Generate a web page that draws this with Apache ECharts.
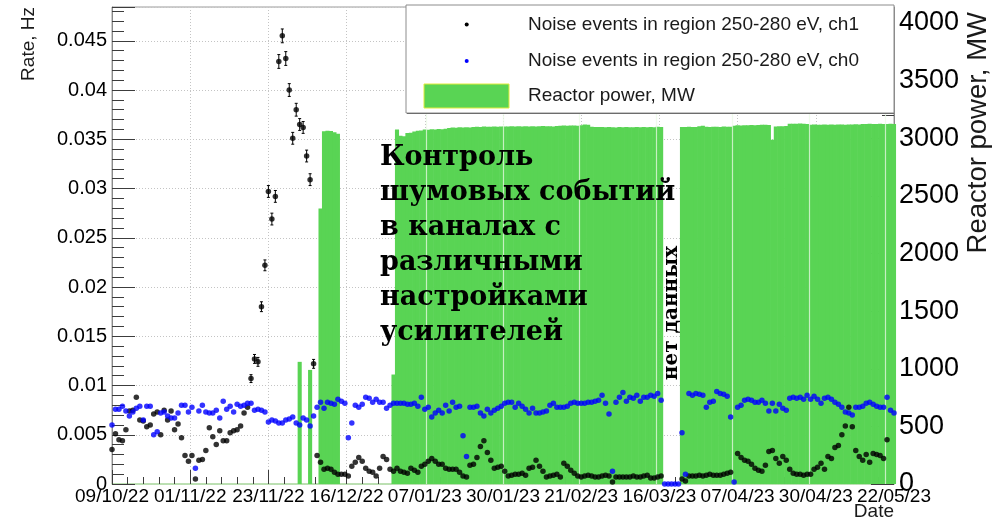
<!DOCTYPE html>
<html>
<head>
<meta charset="utf-8">
<script src="https://cdn.jsdelivr.net/npm/echarts@6/dist/echarts.min.js"></script>
<style>
  html, body { margin: 0; padding: 0; background: #fff; }
  #chart { width: 1004px; height: 527px; }
</style>
</head>
<body>
<div id="chart"></div>
<script>
// Day index 0 = 09/10/22 12:00, one entry per day up to 22/05/23 (day 225).
const dateLabels = ['09/10/22', '01/11/22', '23/11/22', '16/12/22', '07/01/23', '30/01/23',
                    '21/02/23', '16/03/23', '07/04/23', '30/04/23', '22/05/23'];

// Noise rate in 250-280 eV, channel 1 (Hz)
const ch1Rate = [
  0.0035, 0.0051, 0.0045, 0.0044, 0.0055, 0.0074, 0.0075, 0.0088, 0.0065, 0.0064,
  0.0058, 0.0060, 0.0071, 0.0073, 0.0050, 0.0075, 0.0065, 0.0074, 0.0055, 0.0061,
  0.0047, 0.0029, 0.0023, 0.0029, 0.0005, 0.0024, 0.0025, 0.0034, 0.0057, 0.0048,
  0.0040, 0.0054, 0.0044, 0.0044, 0.0052, 0.0054, 0.0055, 0.0059, 0.0072, 0.0078,
  0.0107, 0.0127, 0.0124, 0.0180, 0.0222, 0.0297, 0.0269, 0.0292, 0.0429, 0.0455,
  0.0432, 0.0400, 0.0351, 0.0380, 0.0365, 0.0362, 0.0333, 0.0309, 0.0122, 0.0029,
  0.0022, 0.0015, 0.0016, 0.0015, 0.0012, 0.0010, 0.0010, 0.0010, 0.0008, 0.0018,
  0.0022, 0.0027, 0.0023, 0.0016, 0.0013, 0.0012, 0.0008, 0.0016, 0.0028, 0.0025,
  0.0015, 0.0013, 0.0016, 0.0013, 0.0012, 0.0011, 0.0016, 0.0014, 0.0012, 0.0018,
  0.0020, 0.0023, 0.0026, 0.0023, 0.0020, 0.0020, 0.0016, 0.0015, 0.0015, 0.0015,
  0.0012, 0.0008, 0.0007, 0.0019, 0.0020, 0.0027, 0.0038, 0.0044, 0.0032, 0.0024,
  0.0016, 0.0017, 0.0018, 0.0013, 0.0008, 0.0009, 0.0010, 0.0010, 0.0011, 0.0009,
  0.0016, 0.0017, 0.0024, 0.0018, 0.0013, 0.0007, 0.0008, 0.0009, 0.0010, 0.0007,
  0.0021, 0.0018, 0.0014, 0.0011, 0.0008, 0.0007, 0.0008, 0.0009, 0.0008, 0.0007,
  0.0007, 0.0008, 0.0009, 0.0008, 0.0002, 0.0007, 0.0007, 0.0007, 0.0007, 0.0007,
  0.0008, 0.0007, 0.0007, 0.0008, 0.0009, 0.0006, 0.0006, 0.0007, 0.0008, null,
  null,   null,   null,   null,   0.0005, 0.0003, 0.0008, 0.0008, 0.0008, 0.0009,
  0.0008, 0.0009, 0.0010, 0.0009, 0.0009, 0.0009, 0.0010, 0.0011, 0.0012, null,
  0.0031, 0.0027, 0.0024, 0.0023, 0.0020, 0.0016, 0.0014, 0.0013, 0.0019, 0.0033,
  0.0034, 0.0026, 0.0021, 0.0028, 0.0024, 0.0015, 0.0011, 0.0010, 0.0010, 0.0009,
  0.0010, 0.0010, 0.0015, 0.0017, 0.0021, 0.0015, 0.0028, 0.0026, 0.0037, 0.0039,
  0.0050, 0.0059, 0.0078, 0.0058, 0.0034, 0.0028, 0.0024, 0.0030, 0.0022, 0.0031,
  0.0030, 0.0029, 0.0026, 0.0045, null,   null
];

// Statistical errors of channel 1, days 40..58
const ch1ErrStart = 40;
const ch1Err = [
  0.0004, 0.00045, 0.00045, 0.0005, 0.00055, 0.0006, 0.0006, 0.0006, 0.0007, 0.0007,
  0.0007, 0.00065, 0.0006, 0.00065, 0.0006, 0.0006, 0.0006, 0.0006, 0.00045
];

// Noise rate in 250-280 eV, channel 0 (Hz)
const ch0Rate = [
  0.0060, 0.0076, 0.0076, 0.0079, 0.0074, 0.0069, 0.0073, 0.0077, 0.0079, 0.0065,
  0.0079, 0.0079, 0.0050, 0.0053, 0.0072, 0.0073, 0.0069, 0.0067, 0.0067, 0.0072,
  0.0080, 0.0080, 0.0073, 0.0078, 0.0016, 0.0074, 0.0080, 0.0073, 0.0072, 0.0072,
  0.0075, 0.0067, 0.0084, 0.0076, 0.0079, 0.0073, 0.0081, 0.0079, 0.0080, 0.0082,
  0.0082, 0.0075, 0.0076, 0.0075, 0.0073, 0.0063, 0.0065, 0.0064, 0.0062, 0.0062,
  0.0065, 0.0066, 0.0068, 0.0062, 0.0060, 0.0067, 0.0065, 0.0059, 0.0069, 0.0078,
  0.0083, 0.0077, 0.0083, 0.0082, 0.0081, 0.0086, 0.0084, 0.0082, 0.0047, 0.0062,
  0.0080, 0.0078, 0.0081, 0.0088, 0.0087, 0.0083, 0.0086, 0.0083, 0.0083, 0.0077,
  0.0080, 0.0082, 0.0082, 0.0082, 0.0082, 0.0081, 0.0081, 0.0082, 0.0079, 0.0088,
  0.0076, 0.0078, 0.0068, 0.0072, 0.0075, 0.0072, 0.0080, 0.0074, 0.0083, 0.0078,
  0.0079, 0.0049, 0.0028, 0.0078, 0.0078, 0.0079, 0.0072, 0.0069, 0.0076, 0.0072,
  0.0075, 0.0077, 0.0079, 0.0082, 0.0083, 0.0083, 0.0078, 0.0082, 0.0079, 0.0076,
  0.0072, 0.0077, 0.0072, 0.0072, 0.0073, 0.0074, 0.0080, 0.0082, 0.0078, 0.0078,
  0.0078, 0.0079, 0.0082, 0.0083, 0.0082, 0.0082, 0.0082, 0.0083, 0.0083, 0.0084,
  0.0085, 0.0090, 0.0082, 0.0071, 0.0013, 0.0083, 0.0088, 0.0093, 0.0084, 0.0088,
  0.0087, 0.0090, 0.0084, 0.0088, 0.0088, 0.0090, 0.0089, 0.0092, 0.0085, 0,
  0,      0,      0,      0,      0.0052, 0.0010, 0.0092, 0.0090, 0.0092, 0.0091,
  0.0090, 0.0078, 0.0083, 0.0084, 0.0094, 0.0092, 0.0091, 0.0089, 0.0068, 0.0002,
  0.0078, 0.0080, 0.0085, 0.0086, 0.0085, 0.0083, 0.0083, 0.0085, 0.0082, 0.0074,
  0.0082, 0.0074, 0.0081, 0.0077, 0.0075, 0.0087, 0.0088, 0.0087, 0.0088, 0.0086,
  0.0090, 0.0086, 0.0089, 0.0086, 0.0082, 0.0087, 0.0088, 0.0086, 0.0083, 0.0081,
  0.0078, 0.0073, 0.0072, 0.0070, 0.0078, 0.0078, 0.0079, 0.0082, 0.0083, 0.0081,
  0.0079, 0.0078, 0.0078, 0.0088, 0.0075, 0.0072
];

// Daily mean reactor thermal power (MW); null = reactor off / no data
const reactorPower = [
  null, null, null, null, null, null, null, null, null, null,
  null, null, null, null, null, null, null, null, null, null,
  null, null, null, null, null, null, null, null, null, null,
  null, null, null, null, null, null, null, null, null, null,
  null, null, null, null, null, null, null, null, null, null,
  null, null, null, null, 1060, null, null, 990,  null, null,
  2390, 3060, 3066, 3064, 3052, 3040, null, null, null, null,
  null, null, null, null, null, null, null, null, null, null,
  null, 950,  3075, 3022, 3018, 3045, 3048, 3058, 3066, 3068,
  3075, 3074, 3078, 3076, 3080, 3079, 3082, 3090, 3094, 3092,
  3095, 3093, 3096, 3094, 3097, 3100, 3098, 3101, 3099, 3100,
  3102, 3100, 3101, 3103, 3101, 3104, 3102, 3105, 3103, 3104,
  3102, 3105, 3103, 3104, 3106, 3104, 3105, 3103, 3106, 3108,
  3110, 3109, 3111, 3110, 3109, 3112, 3120, 3118, 3100, 3098,
  3097, 3098, 3095, 3097, 3096, 3094, 3097, 3095, 3098, 3096,
  3095, 3097, 3096, 3098, 3095, 3097, 3096, 3099, 3097, null,
  null, null, null, null, 3098, 3097, 3099, 3098, 3097, 3105,
  3109, 3099, 3098, 3100, 3099, 3098, 3101, 3100, 3099, 3109,
  3112, 3110, 3113, 3112, 3115, 3114, 3116, 3118, 3117, 3115,
  2988, 3103, 3105, 3104, 3106, 3125, 3127, 3126, 3128, 3126,
  3124, 3118, 3119, 3117, 3118, 3120, 3118, 3119, 3118, 3120,
  3119, 3118, 3120, 3119, 3121, 3120, 3124, 3123, 3125, 3124,
  3123, 3125, 3124, 3123, 3125, 3124
];

// Grid of the power overlay frame (days)
const powerGridDays = [90.5, 112.5, 134.5, 156.5, 178.5, 200.5, 222.5];

const toPairs = arr => arr.map((v, i) => (v == null ? null : [i, v])).filter(p => p);
const errData = ch1Err.map((e, i) => [ch1ErrStart + i, ch1Rate[ch1ErrStart + i], e]);

const AXIS_FONT = '"Liberation Sans", Arial, sans-serif';
const SERIF = '"DejaVu Serif", serif';
const GREEN = '#59d454';
const TICK = '#3c3c3c';
const GRIDC = '#c4c4c4';

const chart = echarts.init(document.getElementById('chart'), null, { renderer: 'canvas' });

chart.setOption({
  animation: false,
  backgroundColor: '#fff',
  textStyle: { fontFamily: AXIS_FONT },
  grid: { left: 112, right: 110, top: 7, bottom: 43, show: true, borderColor: '#9a9a9a', borderWidth: 1 },
  xAxis: [{
    type: 'value', min: 0, max: 225, interval: 22.5,
    axisLine: { show: true, onZero: false, lineStyle: { color: '#b6e6aa', width: 1.5 } },
    axisTick: { show: true, inside: true, length: 14, lineStyle: { color: TICK } },
    minorTick: { show: true, splitNumber: 5, length: 7, lineStyle: { color: TICK } },
    splitLine: { show: true, lineStyle: { color: GRIDC, type: [1, 2] } },
    axisLabel: {
      margin: 3, fontSize: 19, color: '#000', fontFamily: AXIS_FONT,
      formatter: v => dateLabels[Math.round(v / 22.5)] || ''
    }
  }],
  yAxis: [{
    type: 'value', position: 'left', min: 0, max: 0.04843, interval: 0.005,
    axisLine: { show: true, lineStyle: { color: '#8a8a8a' } },
    axisTick: { show: true, inside: true, length: 23, lineStyle: { color: TICK } },
    minorTick: { show: true, splitNumber: 5, length: 12, lineStyle: { color: TICK } },
    splitLine: { show: true, lineStyle: { color: GRIDC, type: [1, 2] } },
    axisLabel: {
      margin: 5, fontSize: 20, color: '#000', fontFamily: AXIS_FONT,
      formatter: v => {
        const k = Math.round(v / 0.005);
        if (Math.abs(v - k * 0.005) > 1e-9) return '';
        return String(+(k * 0.005).toFixed(3));
      }
    }
  }, {
    type: 'value', position: 'right', min: 0, max: 4139, interval: 500,
    axisLine: { show: true, lineStyle: { color: '#8a8a8a' } },
    axisTick: { show: true, inside: true, length: 23, lineStyle: { color: TICK } },
    minorTick: { show: true, splitNumber: 5, length: 12, lineStyle: { color: TICK } },
    splitLine: { show: false },
    axisLabel: {
      margin: 5, fontSize: 27, color: '#000', fontFamily: AXIS_FONT,
      formatter: v => (v % 500 === 0 ? String(v) : '')
    }
  }],
  series: [{
    name: 'Reactor power, MW',
    type: 'bar',
    xAxisIndex: 0, yAxisIndex: 1,
    data: toPairs(reactorPower),
    barWidth: 4.1,
    itemStyle: { color: GREEN, borderWidth: 0 },
    z: 2,
    markLine: {
      silent: true, symbol: 'none', label: { show: false },
      lineStyle: { color: 'rgba(235,250,230,0.75)', width: 1.2, type: 'solid' },
      data: powerGridDays.map(d => ({ xAxis: d })),
      z: 3
    }
  }, {
    name: 'ch1 errors',
    type: 'custom',
    xAxisIndex: 0, yAxisIndex: 0,
    data: errData,
    encode: { x: 0, y: 1 },
    z: 6,
    renderItem: (params, api) => {
      const x = api.value(0), v = api.value(1), e = api.value(2);
      const t = api.coord([x, v + e]);
      const b = api.coord([x, v - e]);
      const st = { stroke: '#000', lineWidth: 1 };
      return {
        type: 'group',
        children: [
          { type: 'line', shape: { x1: t[0], y1: t[1], x2: b[0], y2: b[1] }, style: st },
          { type: 'line', shape: { x1: t[0] - 1.5, y1: t[1], x2: t[0] + 1.5, y2: t[1] }, style: st },
          { type: 'line', shape: { x1: b[0] - 1.5, y1: b[1], x2: b[0] + 1.5, y2: b[1] }, style: st }
        ]
      };
    }
  }, {
    name: 'Noise events in region 250-280 eV, ch1',
    type: 'scatter',
    xAxisIndex: 0, yAxisIndex: 0,
    data: toPairs(ch1Rate),
    symbol: 'circle', symbolSize: 5.5,
    itemStyle: { color: '#000' },
    z: 7
  }, {
    name: 'Noise events in region 250-280 eV, ch0',
    type: 'scatter',
    xAxisIndex: 0, yAxisIndex: 0,
    data: toPairs(ch0Rate),
    symbol: 'circle', symbolSize: 5.5,
    itemStyle: { color: '#0000ff' },
    z: 8
  }],
  graphic: [
    // legend box
    { type: 'rect', z: 50, shape: { x: 406, y: 5, width: 488, height: 108 },
      style: { fill: '#fff', stroke: '#8c8c8c', lineWidth: 1 } },
    { type: 'line', z: 50, shape: { x1: 407, y1: 113.5, x2: 894, y2: 113.5 },
      style: { stroke: '#6c6c6c', lineWidth: 1 } },
    { type: 'circle', z: 51, shape: { cx: 466.7, cy: 24.5, r: 2 }, style: { fill: '#000' } },
    { type: 'text', z: 51, x: 528, y: 25,
      style: { text: 'Noise events in region 250-280 eV, ch1', font: '19px ' + AXIS_FONT,
               fill: '#1a1a1a', verticalAlign: 'middle' } },
    { type: 'circle', z: 51, shape: { cx: 466.7, cy: 61, r: 2 }, style: { fill: '#0000ff' } },
    { type: 'text', z: 51, x: 528, y: 61,
      style: { text: 'Noise events in region 250-280 eV, ch0', font: '19px ' + AXIS_FONT,
               fill: '#1a1a1a', verticalAlign: 'middle' } },
    { type: 'rect', z: 51, shape: { x: 424, y: 84, width: 85, height: 24 },
      style: { fill: GREEN, stroke: '#e2ec3a', lineWidth: 1 } },
    { type: 'text', z: 51, x: 528, y: 96,
      style: { text: 'Reactor power, MW', font: '19px ' + AXIS_FONT,
               fill: '#1a1a1a', verticalAlign: 'middle' } },
    // axis titles
    { type: 'text', z: 50, x: 29, y: 7, rotation: Math.PI / 2,
      style: { text: 'Rate, Hz', font: '19px ' + AXIS_FONT, fill: '#1a1a1a',
               align: 'right', verticalAlign: 'middle' } },
    { type: 'text', z: 50, x: 978, y: 12, rotation: Math.PI / 2,
      style: { text: 'Reactor power, MW', font: '27.5px ' + AXIS_FONT, fill: '#1a1a1a',
               align: 'right', verticalAlign: 'middle' } },
    { type: 'text', z: 50, x: 894, y: 512,
      style: { text: 'Date', font: '19px ' + AXIS_FONT, fill: '#1a1a1a',
               align: 'right', verticalAlign: 'middle' } },
    // annotations
    { type: 'text', z: 60, x: 380, y: 140,
      style: { text: 'Контроль\nшумовых событий\nв каналах с\nразличными\nнастройками\nусилителей',
               font: 'bold 27px ' + SERIF, lineHeight: 35, fill: '#000',
               align: 'left', verticalAlign: 'top' } },
    { type: 'text', z: 60, x: 672, y: 313, rotation: Math.PI / 2,
      style: { text: 'нет данных', font: 'bold 20px ' + SERIF, fill: '#000',
               align: 'center', verticalAlign: 'middle' } }
  ]
});
</script>
</body>
</html>
